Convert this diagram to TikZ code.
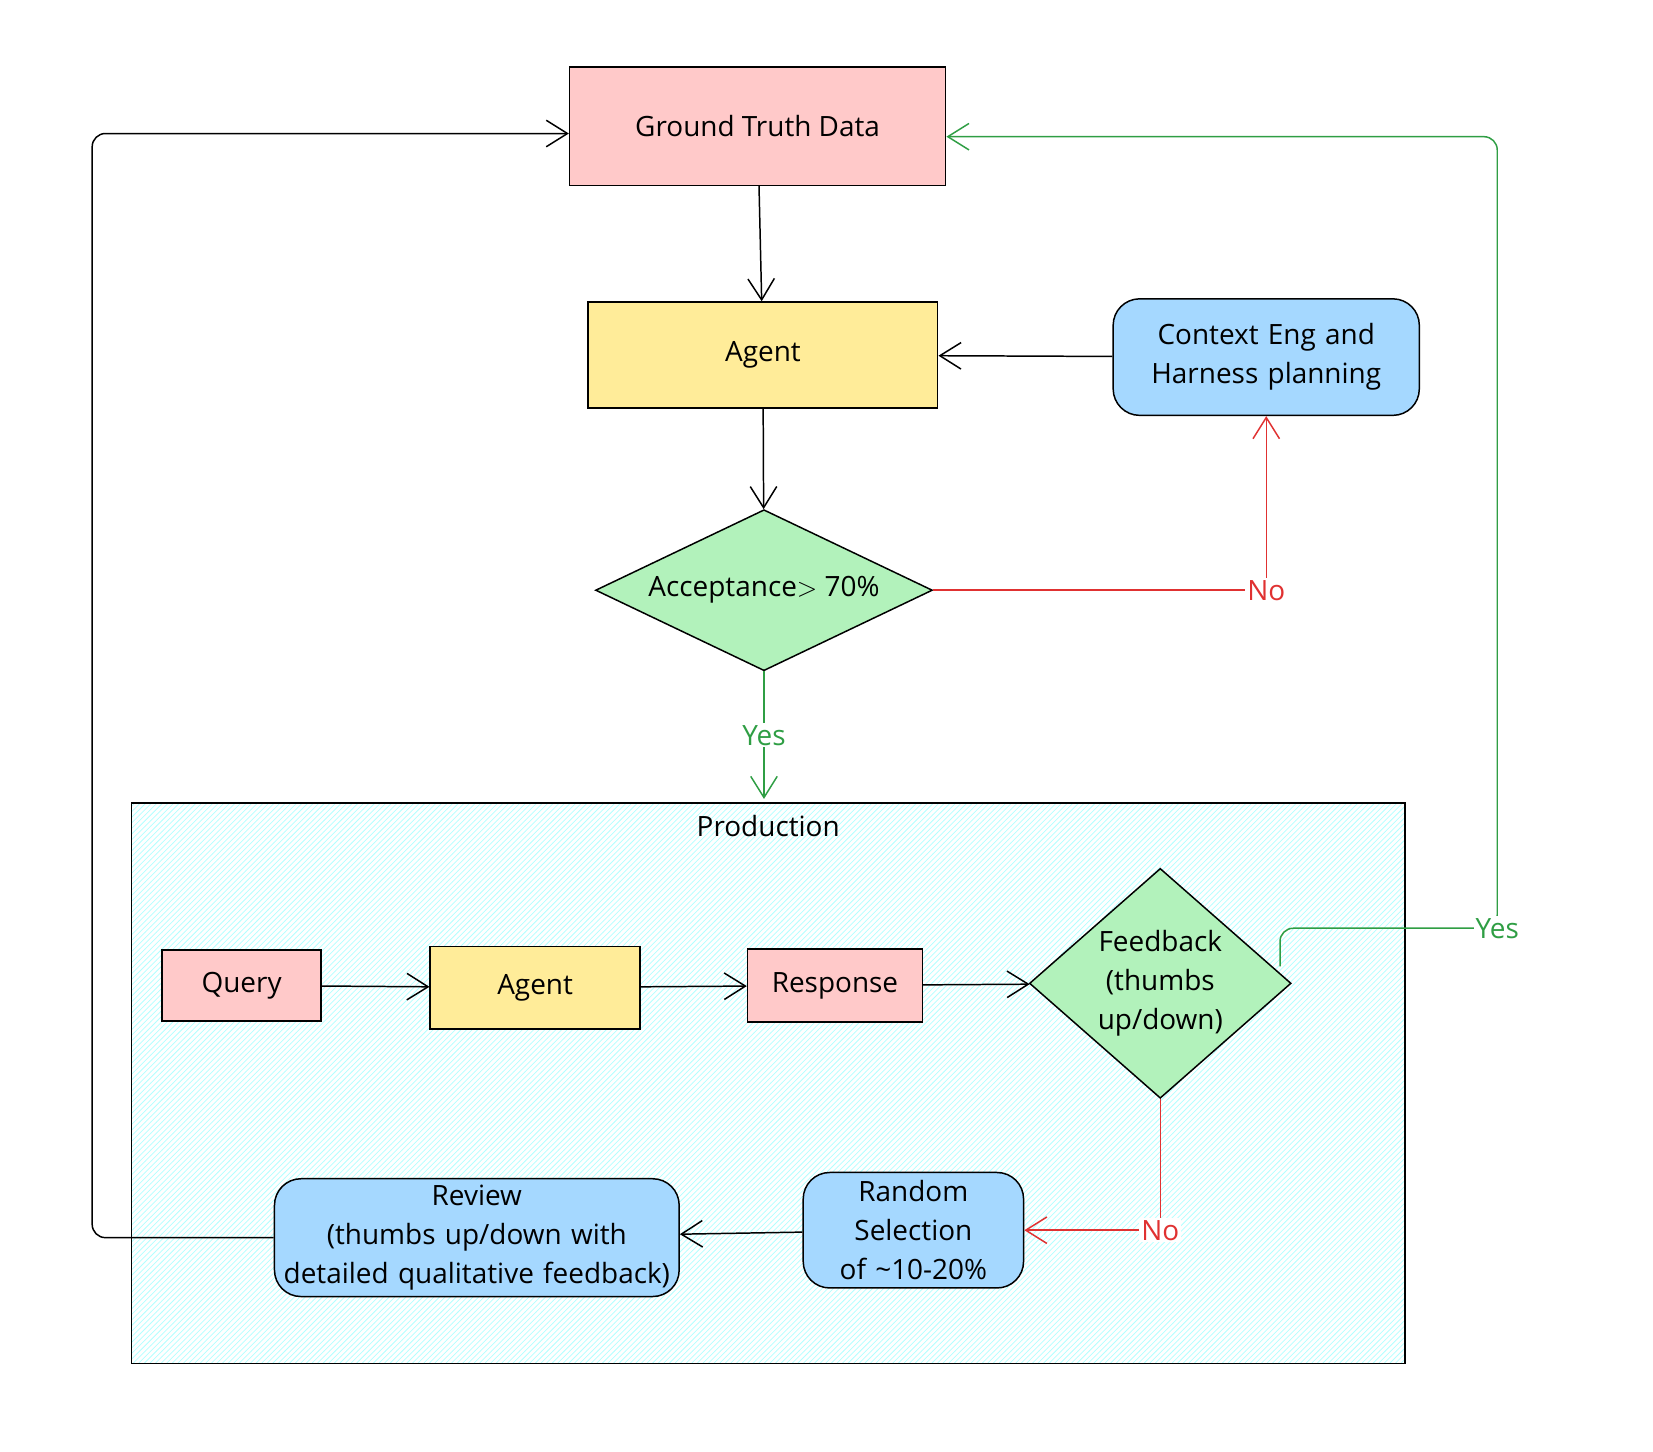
\documentclass[tikz,border=0pt]{standalone}
\usepackage{fontspec}
\setmainfont{Open Sans}
\usetikzlibrary{arrows.meta,patterns,shapes.geometric}
\definecolor{lpink}{HTML}{FFC9C9}
\definecolor{lyellow}{HTML}{FFEC99}
\definecolor{lblue}{HTML}{A5D8FF}
\definecolor{lgreen}{HTML}{B2F2BB}
\definecolor{dred}{HTML}{E03131}
\definecolor{dgreen}{HTML}{2F9E44}
\tikzstyle{block} = [rectangle, draw, thick, text centered, font=\fontsize{15}{21}\selectfont]
\tikzstyle{rblock} = [block, rounded corners=0.5cm, fill=lblue]
\tikzstyle{decision} = [diamond, draw, thick, fill=lgreen, aspect=2, inner sep=0pt, text centered, font=\fontsize{15}{21}\selectfont]
\tikzstyle{line} = [draw, thick, -{Straight Barb[length=4mm,width=5mm]}]
\tikzstyle{lbl} = [fill=white, inner sep=1pt, font=\fontsize{15}{18}\selectfont]
\begin{document}
\begin{tikzpicture}[x=0.02cm,y=-0.02cm]
  \useasboundingbox (0,0) rectangle (1560,1370);

  %  production frame
  \draw[thick, pattern=north east lines, pattern color=cyan!30] (124,758) rectangle (1326,1287);
  \node[font=\fontsize{15}{18}\selectfont] (prod) at (725,780) {Production};

  %  upper loop
  \node [block, fill=lpink, minimum width=7.1cm, minimum height=2.24cm] (truth) at (715,119) {Ground Truth Data};
  \node [block, fill=lyellow, minimum width=6.6cm, minimum height=2cm] (agent) at (720,335) {Agent};
  \node [rblock, minimum width=5.78cm, minimum height=2.2cm, text width=5.4cm] (context) at (1195,337) {Context Eng and Harness planning};
  \node [decision, minimum width=6.36cm, minimum height=3.04cm] (accept) at (721,557) {Acceptance\\ $>$ 70\%};

  %  production flow
  \node [block, fill=lpink, minimum width=3cm, minimum height=1.34cm] (query) at (228,930) {Query};
  \node [block, fill=lyellow, minimum width=3.96cm, minimum height=1.56cm] (agent2) at (505,932) {Agent};
  \node [block, fill=lpink, minimum width=3.3cm, minimum height=1.38cm] (response) at (788,930) {Response};
  \node [decision, aspect=1.14, minimum width=4.94cm, minimum height=4.34cm, text width=2.4cm] (feedback) at (1095,928) {Feedback (thumbs up/down)};
  \node [rblock, minimum width=4.16cm, minimum height=2.18cm, text width=3.8cm] (random) at (862,1161) {Random Selection of \textasciitilde10-20\%};
  \node [rblock, minimum width=7.64cm, minimum height=2.16cm, text width=7.4cm] (review) at (450,1168) {Review\\ (thumbs up/down with detailed qualitative feedback)};

  \coordinate (no1) at (1195,557);
  \coordinate (no2) at (1095,1161);
  \coordinate (yes2) at (1413,876);

  \draw[line] (truth) -- (agent);
  \draw[line] (agent) -- (accept);
  \draw[line] (context) -- (agent);
  \draw[line, dgreen] (accept) -- node[lbl, text=dgreen] {Yes} (accept |- 0,754);
  \draw[line, dred] (accept) -- (no1) -- (context);
  \node[lbl, text=dred] at (no1) {No};
  \draw[line] (query) -- (agent2);
  \draw[line] (agent2) -- (response);
  \draw[line] (response) -- (feedback);
  \draw[line, dred] (feedback) -- (no2) -- (random);
  \node[lbl, text=dred] at (no2) {No};
  \draw[line] (random) -- (review);
  \draw[line, rounded corners=0.25cm] (review.west) -- (87,1168) -- (87,126) -- (truth.west |- 0,126);
  \draw[line, dgreen, rounded corners=0.25cm] (1208,912) -- (1208,876) -- (yes2) -- (1413,129) -- (truth.east |- 0,129);
  \node[lbl, text=dgreen] at (yes2) {Yes};

\end{tikzpicture}
\end{document}
